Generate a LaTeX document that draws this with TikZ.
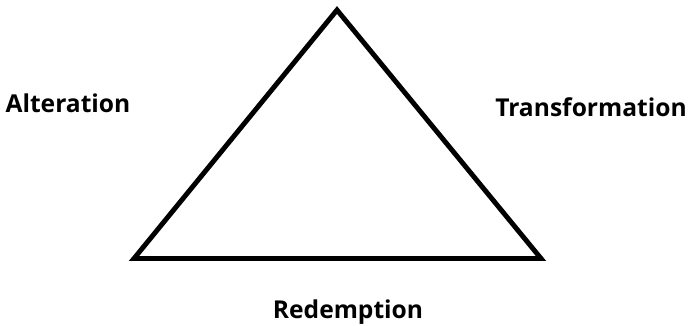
\documentclass[tikz,border=0pt]{standalone}
\usepackage{fontspec}
\setmainfont{Open Sans}
\usepackage{tikz}
\usetikzlibrary{positioning}

\begin{document}
\begin{tikzpicture}[
  x=0.02cm, y=-0.02cm,
  lbl/.style={font=\fontsize{14}{16}\selectfont\bfseries, inner sep=0pt, anchor=base},
  side/.style={line width=2.8pt, line join=miter}
]
  \useasboundingbox (0,0) rectangle (688,325);

  % corners of the triangle
  \coordinate (top) at (337,10);
  \coordinate (bl) at (134,258.5);
  \coordinate (br) at (541,258.5);
  \draw[side] (top) -- (br) -- (bl) -- cycle;

  % labels
  \node[lbl] (alter) at (68,112) {Alteration};
  \node[lbl] (trans) at (591,116) {Transformation};
  \node[lbl] (redem) at (348,318) {Redemption};
\end{tikzpicture}
\end{document}
